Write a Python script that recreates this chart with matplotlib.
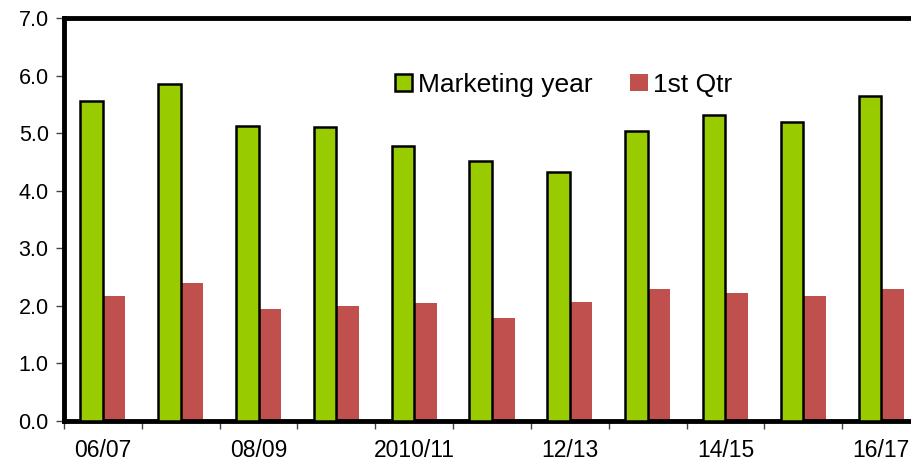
import matplotlib
matplotlib.use("Agg")
import matplotlib.pyplot as plt
import numpy as np

categories = ["06/07", "07/08", "08/09", "09/10", "2010/11", "11/12", "12/13", "13/14", "14/15", "15/16", "16/17"]
tick_labels = ["06/07", "", "08/09", "", "2010/11", "", "12/13", "", "14/15", "", "16/17"]
marketing_year = [5.55, 5.86, 5.13, 5.10, 4.78, 4.52, 4.32, 5.04, 5.32, 5.20, 5.65]
first_qtr = [2.17, 2.39, 1.94, 1.99, 2.05, 1.79, 2.06, 2.30, 2.22, 2.17, 2.29]

plt.rcParams['font.family'] = ['Liberation Sans', 'DejaVu Sans']

fig = plt.figure(figsize=(9.12, 4.62), dpi=100)
ax = fig.add_axes([64/912, 1-421/462, (920-64)/912, (421-18)/462])

x = np.arange(len(categories))
w = 0.29
ax.bar(x - w/2, marketing_year, w, color="#99CC00", edgecolor="black", linewidth=1.8, label="Marketing year", zorder=3)
ax.bar(x + w/2, first_qtr, w, color="#C0504D", edgecolor="none", label="1st Qtr", zorder=2)

ax.set_xlim(-0.5, len(categories) - 0.5)
ax.set_ylim(0, 7)
ax.set_yticks(np.arange(0, 7.01, 1.0))
ax.set_yticklabels([f"{v:.1f}" for v in np.arange(0, 7.01, 1.0)], fontsize=15.5)

ax.set_xticks(x)
ax.set_xticklabels(tick_labels, fontsize=16.5)
ax.tick_params(axis='x', which='major', length=0, pad=13)
ax.set_xticks(np.arange(-0.5, len(categories), 1.0), minor=True)
ax.tick_params(axis='x', which='minor', length=6, width=1, color='#444444', direction='out')
ax.tick_params(axis='y', length=6, width=1, color='#444444', direction='out', pad=5)

for s in ['left', 'top', 'bottom', 'right']:
    ax.spines[s].set_linewidth(3.5)
    ax.spines[s].set_color('black')

leg = ax.legend(loc='upper left', bbox_to_anchor=(0.3745, 0.89), ncol=2, frameon=False,
                fontsize=19, handlelength=0.65, handleheight=0.65, handletextpad=0.2,
                columnspacing=1.45, borderaxespad=0)

fig.savefig("out.png", dpi=100)
